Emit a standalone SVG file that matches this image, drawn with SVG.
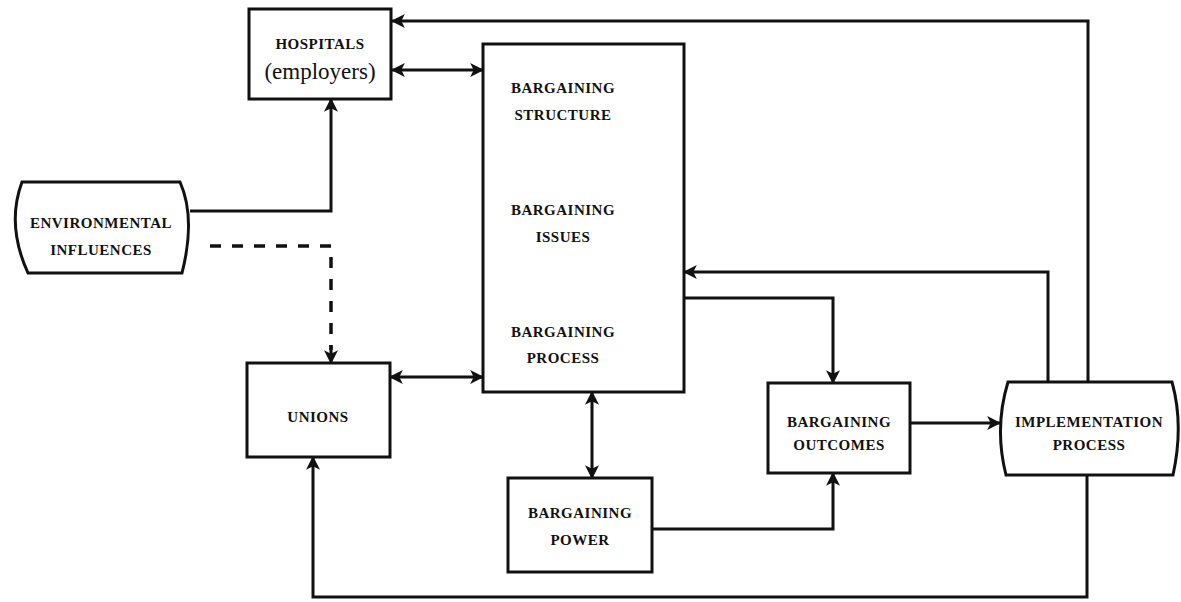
<svg xmlns="http://www.w3.org/2000/svg" width="1181" height="602" viewBox="0 0 1181 602">
<style>
.box{fill:#fff;stroke:#111;stroke-width:3}
.t{font-family:"Liberation Serif","Times New Roman",serif;font-weight:bold;font-size:15px;letter-spacing:0.5px;fill:#111;text-anchor:middle}
.e{font-family:"Liberation Serif","Times New Roman",serif;font-size:23px;fill:#111;text-anchor:middle}
.c{fill:none;stroke:#111;stroke-width:3}
.d{fill:none;stroke:#111;stroke-width:3.5;stroke-dasharray:11,11}
</style>
<defs>
<marker id="a" viewBox="0 0 12 12" refX="11" refY="6" markerWidth="14" markerHeight="14" markerUnits="userSpaceOnUse" orient="auto-start-reverse">
<path d="M0,0 L12,6 L0,12 L3,6 Z" fill="#111"/>
</marker>
</defs>
<rect width="1181" height="602" fill="#fff"/>
<g id="connectors">
<path class="c" d="M1088,382 V21 H392" marker-end="url(#a)"/>
<path class="c" d="M392,70 H483" marker-start="url(#a)" marker-end="url(#a)"/>
<path class="c" d="M190,211 H331 V99" marker-end="url(#a)"/>
<path class="d" d="M210,246 H331 V350"/>
<path class="c" d="M331,345 V363" marker-end="url(#a)"/>
<path class="c" d="M390,377 H483" marker-start="url(#a)" marker-end="url(#a)"/>
<path class="c" d="M592,392 V478" marker-start="url(#a)" marker-end="url(#a)"/>
<path class="c" d="M1048,382 V272 H684" marker-end="url(#a)"/>
<path class="c" d="M684,298 H833 V383" marker-end="url(#a)"/>
<path class="c" d="M910,423 H1000" marker-end="url(#a)"/>
<path class="c" d="M652,529 H833 V473" marker-end="url(#a)"/>
<path class="c" d="M1087,475 V597 H313 V457" marker-end="url(#a)"/>
</g>
<g id="hospitals">
<rect class="box" x="249" y="9" width="142" height="90"/>
<text class="t" x="320" y="49">HOSPITALS</text>
<text class="e" x="320" y="79">(employers)</text>
</g>
<g id="bargaining">
<rect class="box" x="483" y="44" width="201" height="348"/>
<text class="t" x="563" y="93">BARGAINING</text>
<text class="t" x="563" y="120">STRUCTURE</text>
<text class="t" x="563" y="215">BARGAINING</text>
<text class="t" x="563" y="242">ISSUES</text>
<text class="t" x="563" y="337">BARGAINING</text>
<text class="t" x="563" y="363">PROCESS</text>
</g>
<g id="environmental">
<path class="box" d="M22,182 H180 Q196,218 182,273 H28 Q6,225 22,182 Z"/>
<text class="t" x="101" y="228">ENVIRONMENTAL</text>
<text class="t" x="101" y="255">INFLUENCES</text>
</g>
<g id="unions">
<rect class="box" x="247" y="363" width="143" height="94"/>
<text class="t" x="318" y="422">UNIONS</text>
</g>
<g id="power">
<rect class="box" x="508" y="478" width="144" height="94"/>
<text class="t" x="580" y="518">BARGAINING</text>
<text class="t" x="580" y="545">POWER</text>
</g>
<g id="outcomes">
<rect class="box" x="768" y="383" width="142" height="90"/>
<text class="t" x="839" y="427">BARGAINING</text>
<text class="t" x="839" y="450">OUTCOMES</text>
</g>
<g id="implementation">
<path class="box" d="M1008,382 H1172 Q1184,425 1173,475 H1006 Q994,428 1008,382 Z"/>
<text class="t" x="1089" y="427">IMPLEMENTATION</text>
<text class="t" x="1089" y="450">PROCESS</text>
</g>
</svg>
